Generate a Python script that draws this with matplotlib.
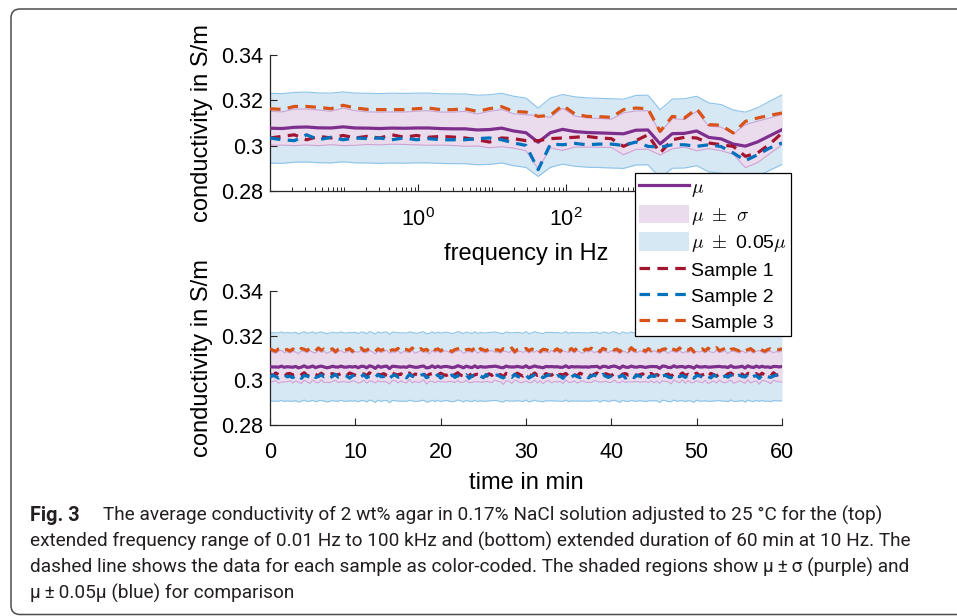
import numpy as np
import matplotlib
matplotlib.use("Agg")
import matplotlib.pyplot as plt
from matplotlib.patches import FancyBboxPatch, Patch
from matplotlib.lines import Line2D
from matplotlib.ticker import FixedLocator, FixedFormatter, NullFormatter
import matplotlib.font_manager as fm

plt.rcParams['font.family'] = ['Liberation Sans', 'DejaVu Sans']
plt.rcParams['mathtext.fontset'] = 'cm'

# ---------------- data: top panel (frequency sweep) ----------------
freq_hz = [0.01, 0.01462, 0.02136, 0.03122, 0.04563, 0.06668,
           0.09745, 0.1424, 0.2082, 0.3042, 0.4446, 0.6498,
           0.9497, 1.388, 2.029, 2.965, 4.334, 6.333,
           9.256, 13.53, 19.77, 28.90, 42.23, 61.72,
           90.21, 131.8, 192.7, 281.6, 411.6, 601.6,
           879.0, 1285, 1878, 2744, 4011, 5861,
           8567, 12520, 18300, 26740, 39080, 57120, 83480]

freq_sample1 = [0.3034, 0.3041, 0.3048, 0.3026, 0.3041, 0.3034, 0.3045, 0.3034, 0.3041, 0.3034,
                0.3048, 0.3037, 0.3045, 0.3037, 0.3041, 0.3038, 0.3034, 0.3026, 0.3016, 0.3034,
                0.3031, 0.3022, 0.3022, 0.3031, 0.3034, 0.3037, 0.3041, 0.3034, 0.3031, 0.2997,
                0.3022, 0.3048, 0.2968, 0.3026, 0.3037, 0.3034, 0.3012, 0.3004, 0.2997, 0.2953,
                0.2968, 0.3007, 0.3056]
freq_sample2 = [0.3034, 0.3026, 0.3022, 0.3048, 0.3026, 0.3037, 0.3026, 0.3034, 0.3031, 0.3034,
                0.3026, 0.3034, 0.3026, 0.3031, 0.3026, 0.3026, 0.3026, 0.3031, 0.3034, 0.3026,
                0.3012, 0.3001, 0.2894, 0.3007, 0.3004, 0.3010, 0.3004, 0.3007, 0.3007, 0.3001,
                0.3016, 0.2997, 0.2993, 0.3004, 0.3004, 0.2997, 0.3004, 0.2996, 0.2968, 0.2934,
                0.2960, 0.2990, 0.3012]
freq_sample3 = [0.3163, 0.3160, 0.3173, 0.3173, 0.3169, 0.3163, 0.3178, 0.3166, 0.3160, 0.3159,
                0.3159, 0.3159, 0.3163, 0.3166, 0.3159, 0.3159, 0.3163, 0.3151, 0.3163, 0.3172,
                0.3151, 0.3148, 0.3129, 0.3134, 0.3178, 0.3140, 0.3129, 0.3128, 0.3125, 0.3159,
                0.3166, 0.3163, 0.3063, 0.3129, 0.3122, 0.3163, 0.3093, 0.3090, 0.3056, 0.3107,
                0.3122, 0.3134, 0.3144]

# ---------------- data: bottom panel (60 min at 10 Hz, one value every 20 s) ----------------
time_sample1 = [
    0.3028, 0.3020, 0.3033, 0.3026, 0.3023, 0.3016, 0.3029, 0.3031, 0.3024, 0.3027, 0.3018, 0.3025, 0.3034, 0.3022, 0.3019, 0.3030, 0.3026, 0.3021, 0.3032, 0.3023,
    0.3017, 0.3027, 0.3030, 0.3024, 0.3025, 0.3031, 0.3020, 0.3022, 0.3033, 0.3028, 0.3023, 0.3018, 0.3026, 0.3029, 0.3021, 0.3034, 0.3024, 0.3019, 0.3027, 0.3025,
    0.3030, 0.3022, 0.3017, 0.3032, 0.3027, 0.3024, 0.3029, 0.3020, 0.3025, 0.3033, 0.3019, 0.3028, 0.3026, 0.3023, 0.3031, 0.3016, 0.3027, 0.3030, 0.3021, 0.3024,
    0.3032, 0.3025, 0.3022, 0.3029, 0.3018, 0.3026, 0.3034, 0.3023, 0.3020, 0.3028, 0.3031, 0.3017, 0.3025, 0.3027, 0.3024, 0.3030, 0.3019, 0.3029, 0.3022, 0.3033,
    0.3023, 0.3026, 0.3016, 0.3031, 0.3028, 0.3021, 0.3025, 0.3032, 0.3024, 0.3019, 0.3029, 0.3027, 0.3020, 0.3033, 0.3022, 0.3026, 0.3018, 0.3030, 0.3025, 0.3023,
    0.3034, 0.3021, 0.3027, 0.3024, 0.3031, 0.3017, 0.3028, 0.3025, 0.3020, 0.3032, 0.3026, 0.3022, 0.3029, 0.3019, 0.3027, 0.3033, 0.3023, 0.3018, 0.3030, 0.3025,
    0.3021, 0.3031, 0.3026, 0.3016, 0.3028, 0.3030, 0.3023, 0.3024, 0.3032, 0.3020, 0.3025, 0.3029, 0.3017, 0.3027, 0.3031, 0.3022, 0.3026, 0.3019, 0.3034, 0.3024,
    0.3028, 0.3018, 0.3030, 0.3025, 0.3023, 0.3033, 0.3021, 0.3027, 0.3019, 0.3026, 0.3032, 0.3022, 0.3024, 0.3029, 0.3016, 0.3031, 0.3025, 0.3020, 0.3028, 0.3027,
    0.3019, 0.3029, 0.3033, 0.3023, 0.3020, 0.3026, 0.3028, 0.3017, 0.3031, 0.3025, 0.3024, 0.3030, 0.3021, 0.3032, 0.3022, 0.3027, 0.3018, 0.3034, 0.3023, 0.3026,
    0.3029]
time_sample2 = [
    0.3014, 0.3024, 0.3017, 0.3010, 0.3021, 0.3025, 0.3016, 0.3018, 0.3012, 0.3023, 0.3020, 0.3009, 0.3022, 0.3019, 0.3015, 0.3026, 0.3013, 0.3017, 0.3024, 0.3016,
    0.3021, 0.3011, 0.3018, 0.3027, 0.3014, 0.3016, 0.3023, 0.3019, 0.3010, 0.3020, 0.3024, 0.3015, 0.3017, 0.3025, 0.3012, 0.3018, 0.3022, 0.3013, 0.3026, 0.3016,
    0.3017, 0.3023, 0.3009, 0.3020, 0.3024, 0.3014, 0.3018, 0.3021, 0.3011, 0.3026, 0.3019, 0.3016, 0.3013, 0.3022, 0.3027, 0.3012, 0.3017, 0.3020, 0.3015, 0.3025,
    0.3010, 0.3019, 0.3022, 0.3016, 0.3024, 0.3013, 0.3021, 0.3017, 0.3018, 0.3025, 0.3009, 0.3020, 0.3023, 0.3014, 0.3019, 0.3012, 0.3026, 0.3015, 0.3018, 0.3022,
    0.3024, 0.3016, 0.3011, 0.3021, 0.3019, 0.3013, 0.3027, 0.3017, 0.3014, 0.3020, 0.3023, 0.3010, 0.3018, 0.3024, 0.3015, 0.3022, 0.3012, 0.3019, 0.3025, 0.3016,
    0.3013, 0.3021, 0.3018, 0.3009, 0.3026, 0.3020, 0.3015, 0.3023, 0.3017, 0.3012, 0.3022, 0.3019, 0.3011, 0.3021, 0.3024, 0.3016, 0.3014, 0.3027, 0.3018, 0.3013,
    0.3020, 0.3025, 0.3014, 0.3017, 0.3023, 0.3010, 0.3019, 0.3021, 0.3012, 0.3024, 0.3018, 0.3015, 0.3026, 0.3013, 0.3020, 0.3017, 0.3022, 0.3011, 0.3019, 0.3023,
    0.3015, 0.3012, 0.3027, 0.3018, 0.3016, 0.3022, 0.3013, 0.3025, 0.3019, 0.3010, 0.3021, 0.3020, 0.3014, 0.3024, 0.3017, 0.3011, 0.3023, 0.3018, 0.3026, 0.3015,
    0.3019, 0.3014, 0.3024, 0.3011, 0.3020, 0.3023, 0.3017, 0.3015, 0.3026, 0.3012, 0.3018, 0.3021, 0.3009, 0.3022, 0.3025, 0.3016, 0.3013, 0.3019, 0.3024, 0.3017,
    0.3015]
time_sample3 = [
    0.3142, 0.3135, 0.3130, 0.3141, 0.3146, 0.3134, 0.3138, 0.3131, 0.3140, 0.3137, 0.3129, 0.3143, 0.3139, 0.3133, 0.3144, 0.3136, 0.3132, 0.3145, 0.3135, 0.3140,
    0.3131, 0.3138, 0.3141, 0.3128, 0.3139, 0.3144, 0.3134, 0.3137, 0.3142, 0.3130, 0.3140, 0.3136, 0.3145, 0.3133, 0.3135, 0.3143, 0.3138, 0.3129, 0.3141, 0.3134,
    0.3139, 0.3146, 0.3132, 0.3137, 0.3135, 0.3143, 0.3130, 0.3140, 0.3138, 0.3133, 0.3145, 0.3131, 0.3137, 0.3142, 0.3134, 0.3139, 0.3128, 0.3144, 0.3136, 0.3141,
    0.3132, 0.3140, 0.3143, 0.3135, 0.3129, 0.3138, 0.3141, 0.3144, 0.3131, 0.3137, 0.3139, 0.3134, 0.3146, 0.3130, 0.3142, 0.3136, 0.3133, 0.3140, 0.3145, 0.3135,
    0.3137, 0.3131, 0.3142, 0.3139, 0.3134, 0.3145, 0.3128, 0.3138, 0.3141, 0.3135, 0.3143, 0.3132, 0.3140, 0.3136, 0.3144, 0.3129, 0.3139, 0.3137, 0.3133, 0.3146,
    0.3134, 0.3141, 0.3130, 0.3143, 0.3138, 0.3135, 0.3142, 0.3132, 0.3145, 0.3136, 0.3131, 0.3140, 0.3137, 0.3144, 0.3133, 0.3139, 0.3129, 0.3143, 0.3138, 0.3134,
    0.3144, 0.3136, 0.3140, 0.3129, 0.3141, 0.3137, 0.3132, 0.3146, 0.3135, 0.3133, 0.3143, 0.3138, 0.3130, 0.3142, 0.3134, 0.3145, 0.3136, 0.3131, 0.3139, 0.3141,
    0.3130, 0.3142, 0.3138, 0.3134, 0.3145, 0.3131, 0.3139, 0.3135, 0.3143, 0.3128, 0.3140, 0.3137, 0.3141, 0.3132, 0.3144, 0.3136, 0.3134, 0.3146, 0.3133, 0.3138,
    0.3143, 0.3129, 0.3139, 0.3141, 0.3136, 0.3132, 0.3144, 0.3134, 0.3137, 0.3142, 0.3131, 0.3140, 0.3145, 0.3135, 0.3130, 0.3138, 0.3141, 0.3133, 0.3139, 0.3137,
    0.3142]
assert len(time_sample1) == len(time_sample2) == len(time_sample3)
time_start_min, time_end_min = 0, 60

y_ticks = [0.28, 0.30, 0.32, 0.34]
y_ticklabels = ['0.28', '0.3', '0.32', '0.34']
f_ticks = [1e0, 1e2, 1e4]
f_ticklabels = [r'$\mathdefault{10^{0}}$', r'$\mathdefault{10^{2}}$', '']  # 10^4 hidden by legend
t_ticks = [0, 10, 20, 30, 40, 50, 60]
legend_labels = [r'$\mu$', r'$\mu\ \pm\ \sigma$', r'$\mu\ \pm$ 0.05$\mu$',
                 'Sample 1', 'Sample 2', 'Sample 3']
caption_lines = [
    'The average conductivity of 2 wt% agar in 0.17% NaCl solution adjusted to 25 \u00b0C for the (top)',
    'extended frequency range of 0.01 Hz to 100 kHz and (bottom) extended duration of 60 min at 10 Hz. The',
    'dashed line shows the data for each sample as color-coded. The shaded regions show \u03bc\u2009\u00b1\u2009\u03c3 (purple) and',
    '\u03bc\u2009\u00b1\u20090.05\u03bc (blue) for comparison',
]

# ---------------- styles ----------------
C_MU = '#7E2F8E'
C_S = ['#A2142F', '#0072BD', '#D95319']
C_SIG_FILL = '#EADCEC'
C_SIG_EDGE = '#CFA3D6'
C_BLU_FILL = '#D6E8F4'
C_BLU_EDGE = '#8CC3E8'
DASH = (3.3, 2.3)
TICK_FS = 15.5
LABEL_FS = 17

fig = plt.figure(figsize=(9.57, 6.16), dpi=100)
renderer = fig.canvas.get_renderer()

# background frame + caption (pixel coordinates)
bg = fig.add_axes([0, 0, 1, 1], zorder=-10)
bg.set_xlim(0, 957)
bg.set_ylim(616, 0)
bg.axis('off')
bg.add_patch(FancyBboxPatch((11, 9), 1100, 605.5, boxstyle='round,pad=0,rounding_size=9',
                            fc='white', ec='#4d4d4d', lw=1.1))

names = {f.name for f in fm.fontManager.ttflist}
cap_family = 'DejaVu Sans'
for cand in ['Liberation Sans Narrow', 'Roboto', 'Lato', 'Open Sans']:
    if cand in names:
        cap_family = cand
        break
cap_kw = dict(family=[cap_family, 'DejaVu Sans'], color='#231f20', va='baseline', ha='left')
# fit the font size so the second caption line spans the width seen in the reference
probe = bg.text(30, 548, caption_lines[1], fontsize=14, **cap_kw)
w = probe.get_window_extent(renderer).width
cap_fs = 14 * 885.0 / w
probe.remove()
bg.text(30, 521, 'Fig. 3', fontweight='bold', fontsize=cap_fs * 1.05, **cap_kw)
bg.text(103, 521, caption_lines[0], fontsize=cap_fs, **cap_kw)
for k, line in enumerate(caption_lines[1:]):
    bg.text(30, 547 + 26 * k, line, fontsize=cap_fs, **cap_kw)


def draw_panel(ax, x, samples):
    S = np.array(samples)
    mu = S.mean(axis=0)
    sd = S.std(axis=0, ddof=1)
    ax.fill_between(x, 0.95 * mu, 1.05 * mu, color=C_BLU_FILL, lw=0, zorder=1)
    ax.plot(x, 0.95 * mu, color=C_BLU_EDGE, lw=0.8, zorder=1.1)
    ax.plot(x, 1.05 * mu, color=C_BLU_EDGE, lw=0.8, zorder=1.1)
    ax.fill_between(x, mu - sd, mu + sd, color=C_SIG_FILL, lw=0, zorder=2)
    ax.plot(x, mu - sd, color=C_SIG_EDGE, lw=0.8, zorder=2.1)
    ax.plot(x, mu + sd, color=C_SIG_EDGE, lw=0.8, zorder=2.1)
    ax.plot(x, mu, color=C_MU, lw=2.3, zorder=3, solid_joinstyle='round')
    for s, c in zip(samples, C_S):
        ax.plot(x, s, color=c, lw=2.3, ls=(0, DASH), zorder=4)
    ax.set_ylim(0.28, 0.34)
    ax.set_yticks(y_ticks)
    ax.set_yticklabels(y_ticklabels)
    for sp in ['top', 'right']:
        ax.spines[sp].set_visible(False)
    for sp in ['left', 'bottom']:
        ax.spines[sp].set_linewidth(0.9)
        ax.spines[sp].set_color('#262626')
    ax.tick_params(which='major', direction='in', length=5, width=0.8,
                   labelsize=TICK_FS, colors='#262626', labelcolor='black', pad=5)
    ax.tick_params(axis='x', which='major', pad=12)
    ax.tick_params(which='minor', direction='in', length=2.6, width=0.7, colors='#262626')
    ax.set_ylabel('conductivity in S/m', fontsize=LABEL_FS)
    ax.yaxis.set_label_coords(-0.112, 0.5)


ax1 = fig.add_axes([270 / 957, 1 - 191 / 616, 512 / 957, 136 / 616])
draw_panel(ax1, freq_hz, [freq_sample1, freq_sample2, freq_sample3])
ax1.set_xscale('log')
ax1.set_xlim(freq_hz[0], freq_hz[-1])
ax1.xaxis.set_major_locator(FixedLocator(f_ticks))
ax1.xaxis.set_major_formatter(FixedFormatter(f_ticklabels))
minors = [m * 10.0 ** d for d in range(-2, 5) for m in range(1, 10) if not (m == 1 and d % 2 == 0)]
ax1.xaxis.set_minor_locator(FixedLocator(minors))
ax1.xaxis.set_minor_formatter(NullFormatter())
ax1.set_xlabel('frequency in Hz', fontsize=LABEL_FS, labelpad=9)

ax2 = fig.add_axes([270 / 957, 1 - 425 / 616, 512 / 957, 134 / 616])
t_min = np.linspace(time_start_min, time_end_min, len(time_sample1))
draw_panel(ax2, t_min, [time_sample1, time_sample2, time_sample3])
ax2.set_xlim(0, 60)
ax2.set_xticks(t_ticks)
ax2.set_xlabel('time in min', fontsize=LABEL_FS, labelpad=7)

handles = [Line2D([], [], color=C_MU, lw=2.3),
           Patch(facecolor=C_SIG_FILL, edgecolor='none'),
           Patch(facecolor=C_BLU_FILL, edgecolor='none')] + \
          [Line2D([], [], color=c, lw=2.3, ls=(0, DASH)) for c in C_S]
leg = fig.legend(handles, legend_labels, loc='upper left',
                 bbox_to_anchor=(635 / 957, 1 - 173 / 616), bbox_transform=fig.transFigure,
                 borderaxespad=0, borderpad=0.2, handlelength=2.6, handleheight=1.1,
                 handletextpad=0.1, labelspacing=0.3, fontsize=14, fancybox=False,
                 framealpha=1, edgecolor='black')
leg.get_frame().set_linewidth(0.9)

fig.savefig('out.png', dpi=100)
